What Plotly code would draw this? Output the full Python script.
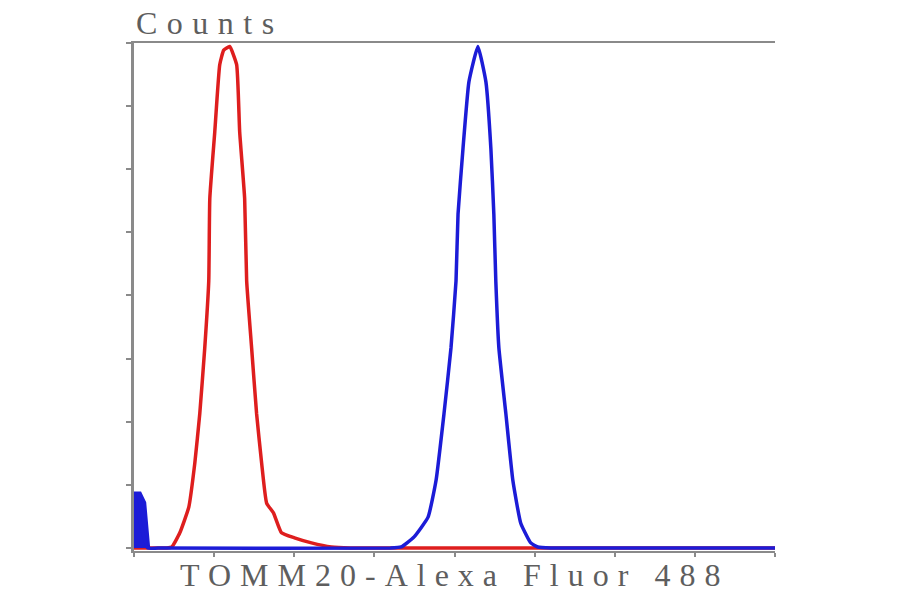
import plotly.graph_objects as go

# Red histogram (control)
red_x = [0.0, 0.41, 0.473, 0.572, 0.684, 0.759, 0.821, 0.883, 0.933, 0.946, 1.008, 1.070, 1.120, 1.194,
         1.281, 1.319, 1.381, 1.406, 1.468, 1.530, 1.593, 1.655, 1.742, 1.841, 2.003, 2.215, 2.463, 2.7, 8.0]
red_y = [0.0, 0.0, 0.002, 0.030, 0.081, 0.168, 0.266, 0.396, 0.529, 0.692, 0.824, 0.957, 0.986, 0.993,
         0.957, 0.824, 0.692, 0.529, 0.396, 0.266, 0.168, 0.089, 0.069, 0.030, 0.020, 0.010, 0.002, 0.0, 0.0]

# Blue histogram (TOMM20 stained)
blue_x = [0.0, 0.17, 0.3, 3.2, 3.334, 3.496, 3.670, 3.770, 3.869, 3.956, 4.019, 4.044, 4.106, 4.180, 4.292,
          4.392, 4.454, 4.491, 4.516, 4.554, 4.641, 4.728, 4.827, 4.952, 5.039, 5.2, 8.0]
blue_y = [0.11, 0.0, 0.0, 0.0, 0.002, 0.022, 0.061, 0.134, 0.266, 0.396, 0.529, 0.661, 0.791, 0.923, 0.993,
          0.923, 0.791, 0.661, 0.527, 0.396, 0.266, 0.134, 0.049, 0.010, 0.002, 0.0, 0.0]

# Small spike of blue events at the axis origin
spike_x = [0.0, 0.08, 0.14, 0.19]
spike_y = [0.11, 0.11, 0.09, 0.0]

x_title = "TOMM20-Alexa Fluor 488"
y_title = "Counts"

RED = "rgb(222,30,30)"
BLUE = "rgb(28,28,215)"
GRAY = "#8a8a8a"
TXT = "#5e5e5e"

fig = go.Figure()
fig.add_trace(go.Scatter(x=red_x, y=red_y, mode="lines",
                         line=dict(color=RED, width=3.5, shape="spline", smoothing=0.4),
                         showlegend=False))
fig.add_trace(go.Scatter(x=spike_x, y=spike_y, mode="lines", fill="tozeroy",
                         fillcolor=BLUE, line=dict(color=BLUE, width=2), showlegend=False))
fig.add_trace(go.Scatter(x=blue_x, y=blue_y, mode="lines",
                         line=dict(color=BLUE, width=3.5, shape="spline", smoothing=0.4),
                         showlegend=False))

fig.update_layout(
    width=900, height=594,
    margin=dict(l=126, r=133, t=35, b=51),
    paper_bgcolor="white", plot_bgcolor="white",
    xaxis=dict(range=[0, 8], showgrid=False, zeroline=False, showticklabels=False,
               showline=True, mirror=True, linecolor=GRAY, linewidth=2,
               ticks="outside", ticklen=4, tickcolor=GRAY, tickwidth=1.5, dtick=1, tick0=0),
    yaxis=dict(range=[-0.006, 1.0], showgrid=False, zeroline=False, showticklabels=False,
               showline=True, linecolor=GRAY, linewidth=2.5,
               ticks="outside", ticklen=5, tickcolor=GRAY, tickwidth=1.5, dtick=0.125, tick0=0),
    annotations=[
        dict(text='<span style="letter-spacing:9.5px">' + y_title + '</span>',
             xref="paper", yref="paper", x=0, y=1.04, xanchor="left",
             yanchor="middle", showarrow=False,
             font=dict(family="Liberation Serif", size=32, color=TXT)),
        dict(text='<span style="letter-spacing:9px">' + x_title + '</span>',
             xref="paper", yref="paper", x=0.5, y=-0.047, xanchor="center",
             yanchor="middle", showarrow=False,
             font=dict(family="Liberation Serif", size=32, color=TXT)),
    ],
)

fig.write_html("out.html")
